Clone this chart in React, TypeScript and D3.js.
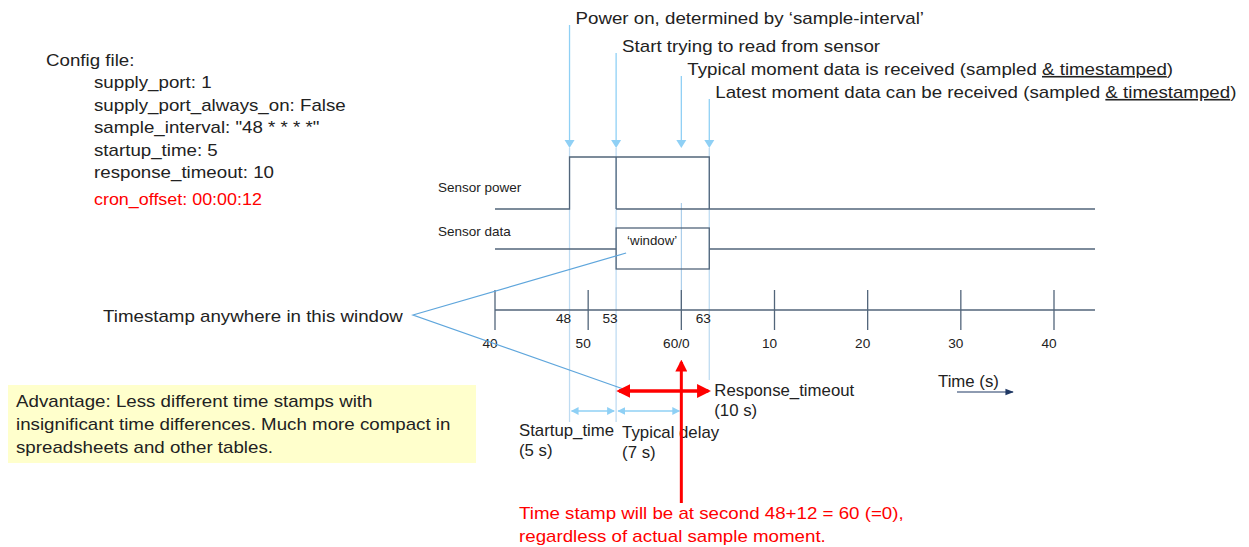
import * as d3 from "d3";

// axis ticks (seconds) and the labels shown under them
const tickValues = [40, 50, 60, 70, 80, 90, 100];
const tickLabels = ["40", "50", "60/0", "10", "20", "30", "40"];

// moments in the cycle
const powerOn = 48;
const readStart = 53;
const typical = 60;
const latest = 63;
const eventTicks = [powerOn, readStart, latest];

const topNotes = [
  { t: powerOn, text: "Power on, determined by \u2018sample-interval\u2019", under: "", end: "" },
  { t: readStart, text: "Start trying to read from sensor", under: "", end: "" },
  { t: typical, text: "Typical moment data is received (sampled ", under: "& timestamped", end: ")" },
  { t: latest, text: "Latest moment data can be received (sampled ", under: "& timestamped", end: ")" },
];

const configLines = [
  "supply_port: 1",
  "supply_port_always_on: False",
  'sample_interval: "48 * * * *"',
  "startup_time: 5",
  "response_timeout: 10",
];
const cronLine = "cron_offset: 00:00:12";

const advantageLines = [
  "Advantage:  Less different time stamps with",
  "insignificant time differences. Much more compact in",
  "spreadsheets and other tables.",
];

const noteLines = [
  "Time stamp will be at second 48+12 = 60 (=0),",
  "regardless of actual sample moment.",
];

const W = 1249;
const H = 547;
const font = "'Liberation Sans', Arial, sans-serif";
const axisColor = "#52657a";
const paleBlue = "#bfdcf2";
const arrowBlue = "#8fd0f5";
const red = "#ff0000";
const ink = "#222";

const x = d3.scaleLinear([40, 100], [495, 1054]);
const xEnd = x(104.4);

// text with a horizontal stretch, the source slide used a wide font
const T = ({ x, y, size = 16, sx = 1.17, fill = ink, anchor = "start", children }: any) => (
  <text transform={`translate(${x},${y}) scale(${sx},1)`} fontSize={size} fill={fill} textAnchor={anchor}>
    {children}
  </text>
);

const App = () => {
  const yAxis = 310;
  const yPowLow = 209;
  const yPowHigh = 157;
  const yData = 249;
  const yBoxTop = 228;
  const yBoxBot = 269;

  const line = d3.line();
  const powerPath = line([
    [x(40), yPowLow],
    [x(powerOn), yPowLow],
    [x(powerOn), yPowHigh],
    [x(latest), yPowHigh],
    [x(latest), yPowLow],
  ]);

  const topY = [18, 46, 69, 92];

  return (
    <svg
      width={W}
      height={H}
      style={{ position: "absolute", left: 0, top: 0, background: "#fff" }}
      fontFamily={font}
    >
      <defs>
        <marker id="aBlue" viewBox="0 0 10 10" refX="9" refY="5" markerWidth="6" markerHeight="6" orient="auto-start-reverse">
          <path d="M0,0 L10,5 L0,10 z" fill={arrowBlue} />
        </marker>
        <marker id="aRed" viewBox="0 0 10 10" refX="8" refY="5" markerWidth="4" markerHeight="4" orient="auto-start-reverse">
          <path d="M0,0 L10,5 L0,10 z" fill={red} />
        </marker>
        <marker id="aNavy" viewBox="0 0 10 10" refX="9" refY="5" markerWidth="7" markerHeight="7" orient="auto">
          <path d="M0,1 L10,5 L0,9 z" fill="#1f3864" />
        </marker>
      </defs>

      {/* config text */}
      <T x={46} y={66}>Config file:</T>
      {configLines.map((l, i) => (
        <T key={l} x={94} y={88 + i * 22.5}>{l}</T>
      ))}
      <T x={94} y={205} size={16} sx={1.12} fill={red}>{cronLine}</T>

      {/* top notes with arrows */}
      {topNotes.map((n, i) => (
        <g key={n.t}>
          <line x1={x(n.t)} x2={x(n.t)} y1={topY[i] + 7} y2={141} stroke={arrowBlue} strokeWidth={1.3} />
          <path d={`M${x(n.t) - 5},${140} L${x(n.t) + 5},${140} L${x(n.t)},${148} z`} fill={arrowBlue} />
          <T x={x(n.t) + 6} y={topY[i] + 6}>
            {n.text}
            {n.under && <tspan textDecoration="underline">{n.under}</tspan>}
            {n.end}
          </T>
        </g>
      ))}

      {/* pale vertical guide lines */}
      <line x1={x(powerOn)} x2={x(powerOn)} y1={148} y2={422} stroke={paleBlue} strokeWidth={1.3} />
      <line x1={x(readStart)} x2={x(readStart)} y1={148} y2={422} stroke={paleBlue} strokeWidth={1.3} />
      <line x1={x(typical)} x2={x(typical)} y1={203} y2={yAxis} stroke="#9cc5e6" strokeWidth={1} />
      <line x1={x(latest)} x2={x(latest)} y1={148} y2={380} stroke={paleBlue} strokeWidth={1.3} />

      {/* signal labels */}
      <T x={438} y={192} size={13.5} sx={1}>Sensor power</T>
      <T x={438} y={236} size={13.5} sx={1}>Sensor data</T>

      {/* sensor power */}
      <path d={powerPath ?? ""} fill="none" stroke={axisColor} strokeWidth={1.3} />
      <line x1={x(readStart)} x2={x(readStart)} y1={yPowHigh} y2={yPowLow} stroke={axisColor} strokeWidth={1.3} />
      <line x1={x(readStart)} x2={xEnd} y1={yPowLow} y2={yPowLow} stroke={axisColor} strokeWidth={1.3} />

      {/* sensor data */}
      <line x1={x(40)} x2={x(readStart)} y1={yData} y2={yData} stroke={axisColor} strokeWidth={1.3} />
      <line x1={x(latest)} x2={xEnd} y1={yData} y2={yData} stroke={axisColor} strokeWidth={1.3} />
      <rect x={x(readStart)} y={yBoxTop} width={x(latest) - x(readStart)} height={yBoxBot - yBoxTop} fill="none" stroke={axisColor} strokeWidth={1.3} />
      <T x={x(readStart) + 11} y={245} size={13} sx={1.02}>{"\u2018window\u2019"}</T>

      {/* time axis */}
      <line x1={x(40)} x2={xEnd} y1={yAxis} y2={yAxis} stroke={axisColor} strokeWidth={1.3} />
      {tickValues.map((t, i) => (
        <g key={t}>
          <line x1={x(t)} x2={x(t)} y1={290} y2={330} stroke={axisColor} strokeWidth={1.3} />
          <T x={x(t) - 5} y={348} size={13} sx={1.05} anchor="middle">{tickLabels[i]}</T>
        </g>
      ))}
      {eventTicks.map((t) => (
        <T key={t} x={x(t) - 6} y={323} size={13} sx={1.05} anchor="middle">{t}</T>
      ))}

      {/* callout */}
      <T x={103} y={322}>Timestamp anywhere in this window</T>
      <polyline
        points={`${x(readStart) + 10},253 413,315 ${x(readStart) + 10},390`}
        fill="none"
        stroke="#5fa6dc"
        strokeWidth={1.2}
      />

      {/* dimension arrows */}
      <line x1={x(powerOn) + 2} x2={x(readStart) - 2} y1={411} y2={411} stroke={arrowBlue} strokeWidth={1.3} markerStart="url(#aBlue)" markerEnd="url(#aBlue)" />
      <line x1={x(readStart) + 2} x2={x(typical) - 2} y1={411} y2={411} stroke={arrowBlue} strokeWidth={1.3} markerStart="url(#aBlue)" markerEnd="url(#aBlue)" />
      <T x={519} y={436} sx={1.05}>Startup_time</T>
      <T x={519} y={456} sx={1.05}>(5 s)</T>
      <T x={x(readStart) + 6} y={438} sx={1.05}>Typical delay</T>
      <T x={x(readStart) + 6} y={458} sx={1.05}>(7 s)</T>

      {/* red markers */}
      <line x1={x(readStart) + 3} x2={x(latest) - 1} y1={391} y2={391} stroke={red} strokeWidth={3.5} markerStart="url(#aRed)" markerEnd="url(#aRed)" />
      <line x1={x(typical)} x2={x(typical)} y1={503} y2={362} stroke={red} strokeWidth={3} markerEnd="url(#aRed)" />
      <T x={x(latest) + 5} y={396} sx={1.05}>Response_timeout</T>
      <T x={x(latest) + 5} y={416} sx={1.05}>(10 s)</T>

      {noteLines.map((l, i) => (
        <T key={l} x={519} y={519 + i * 23} fill={red}>{l}</T>
      ))}

      {/* time label */}
      <T x={938} y={387} sx={1.05}>Time (s)</T>
      <line x1={957} x2={1013} y1={392} y2={392} stroke="#1f3864" strokeWidth={1.2} markerEnd="url(#aNavy)" />

      {/* advantage box */}
      <rect x={8} y={385} width={468} height={78} fill="#ffffcc" />
      {advantageLines.map((l, i) => (
        <T key={l} x={16} y={407 + i * 23}>{l}</T>
      ))}
    </svg>
  );
};

export default App;
